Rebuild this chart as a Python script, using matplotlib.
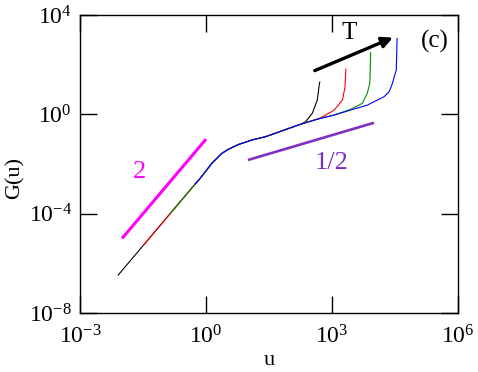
#!/usr/bin/python
#################################
# Importing Modules
#################################
import numpy as np
import matplotlib
matplotlib.use('Agg')
import matplotlib.pyplot as plt
from matplotlib.ticker import FixedLocator, FuncFormatter, NullLocator

#################################
# Defining Constants
#################################
# curves, stored as log10(u), log10(G)
black_logu = [-2.09, -1.49, -0.85, -0.26, -0.14, 0.14, 0.38, 0.54, 0.78, 1.10, 1.42, 1.80, 2.25,
              2.37, 2.53, 2.65, 2.70, 2.71]
black_logG = [-6.47, -5.27, -3.99, -2.81, -2.58, -1.97, -1.57, -1.40, -1.21, -1.03, -0.90, -0.67, -0.40,
              -0.30, 0.04, 0.58, 1.25, 1.30]

red_logu = [-1.49, -0.85, -0.26, -0.14, 0.14, 0.38, 0.54, 0.78, 1.10, 1.42, 1.80, 2.25, 2.73,
            3.05, 3.25, 3.31, 3.33]
red_logG = [-5.27, -3.99, -2.81, -2.58, -1.97, -1.57, -1.40, -1.21, -1.03, -0.90, -0.67, -0.40, -0.14,
            0.17, 0.58, 1.11, 1.82]

green_logu = [-0.85, -0.26, -0.14, 0.14, 0.38, 0.54, 0.78, 1.10, 1.42, 1.80, 2.25, 2.73, 3.05,
              3.44, 3.72, 3.84, 3.90, 3.92]
green_logG = [-3.99, -2.81, -2.58, -1.97, -1.57, -1.40, -1.21, -1.03, -0.90, -0.67, -0.40, -0.16, -0.03,
              0.20, 0.44, 0.85, 1.25, 2.48]

blue_logu = [-0.26, -0.14, 0.14, 0.38, 0.54, 0.78, 1.10, 1.42, 1.80, 2.25, 2.73, 3.05, 3.44, 3.84,
             4.24, 4.36, 4.44, 4.48, 4.53, 4.55]
blue_logG = [-2.81, -2.58, -1.97, -1.57, -1.40, -1.21, -1.03, -0.90, -0.67, -0.40, -0.16, -0.03, 0.17, 0.37,
             0.71, 0.91, 1.25, 1.50, 1.78, 3.06]

# guide lines (slope 2 and slope 1/2)
slope2_u = [1e-2, 1.0]
slope2_G = [1e-5, 1e-1]
slope_half_u = [10.0, 1e4]
slope_half_G = [0.0145, 0.457]

xticks = [1e-3, 1e0, 1e3, 1e6]
yticks = [1e-8, 1e-4, 1e0, 1e4]

#################################
# Performing Work
#################################
plt.rcParams['font.family'] = ['Liberation Serif', 'DejaVu Serif']
plt.rcParams['mathtext.fontset'] = 'custom'
plt.rcParams['mathtext.rm'] = 'Liberation Serif'

fig = plt.figure(figsize=(4.78, 3.72), dpi=100)
ax = fig.add_axes([0.1674, 0.1586, 0.7908, 0.8011])

for lu, lg, col in [(black_logu, black_logG, 'black'),
                    (red_logu, red_logG, 'red'),
                    (green_logu, green_logG, '#009000'),
                    (blue_logu, blue_logG, 'blue')]:
    ax.plot(10.0 ** np.array(lu), 10.0 ** np.array(lg), color=col, lw=0.8)

ax.plot(slope2_u, slope2_G, color='#ff00ff', lw=2.2, solid_capstyle='butt')
ax.plot(slope_half_u, slope_half_G, color='#7f2fc4', lw=1.9, solid_capstyle='butt')

ax.text(10 ** -1.58, 10 ** -2.32, '2', color='#ff00ff', fontsize=19, ha='center', va='center')
ax.text(10 ** 2.99, 10 ** -1.96, '1/2', color='#7f2fc4', fontsize=19, ha='center', va='center')
ax.text(10 ** 3.42, 10 ** 3.27, 'T', fontsize=18, ha='center', va='center')
ax.text(10 ** 5.45, 10 ** 2.95, '(c)', fontsize=18, ha='center', va='center')

ax.annotate('', xy=(10 ** 4.45, 10 ** 3.09), xytext=(10 ** 2.59, 10 ** 1.76),
            arrowprops=dict(arrowstyle='-|>', lw=2.4, color='black', mutation_scale=16,
                            shrinkA=0, shrinkB=0))

ax.set_xscale('log')
ax.set_yscale('log')
ax.set_xlim(1e-3, 1e6)
ax.set_ylim(1e-8, 1e4)

def log_fmt(v, pos):
    return r'$\mathregular{10^{%d}}$' % int(round(np.log10(v)))

ax.xaxis.set_major_locator(FixedLocator(xticks))
ax.yaxis.set_major_locator(FixedLocator(yticks))
ax.xaxis.set_minor_locator(NullLocator())
ax.yaxis.set_minor_locator(NullLocator())
ax.xaxis.set_major_formatter(FuncFormatter(log_fmt))
ax.yaxis.set_major_formatter(FuncFormatter(log_fmt))
ax.tick_params(which='major', direction='in', length=12, width=1.0, top=True, right=True,
               labelsize=17)
ax.tick_params(axis='x', pad=9)
ax.tick_params(axis='y', pad=6)
for sp in ax.spines.values():
    sp.set_linewidth(1.0)

ax.set_xlabel('u', fontsize=16, labelpad=2)
ax.set_ylabel('G(u)', fontsize=16)
ax.yaxis.set_label_coords(-0.146, 0.453)

fig.savefig('out.png', dpi=100)
